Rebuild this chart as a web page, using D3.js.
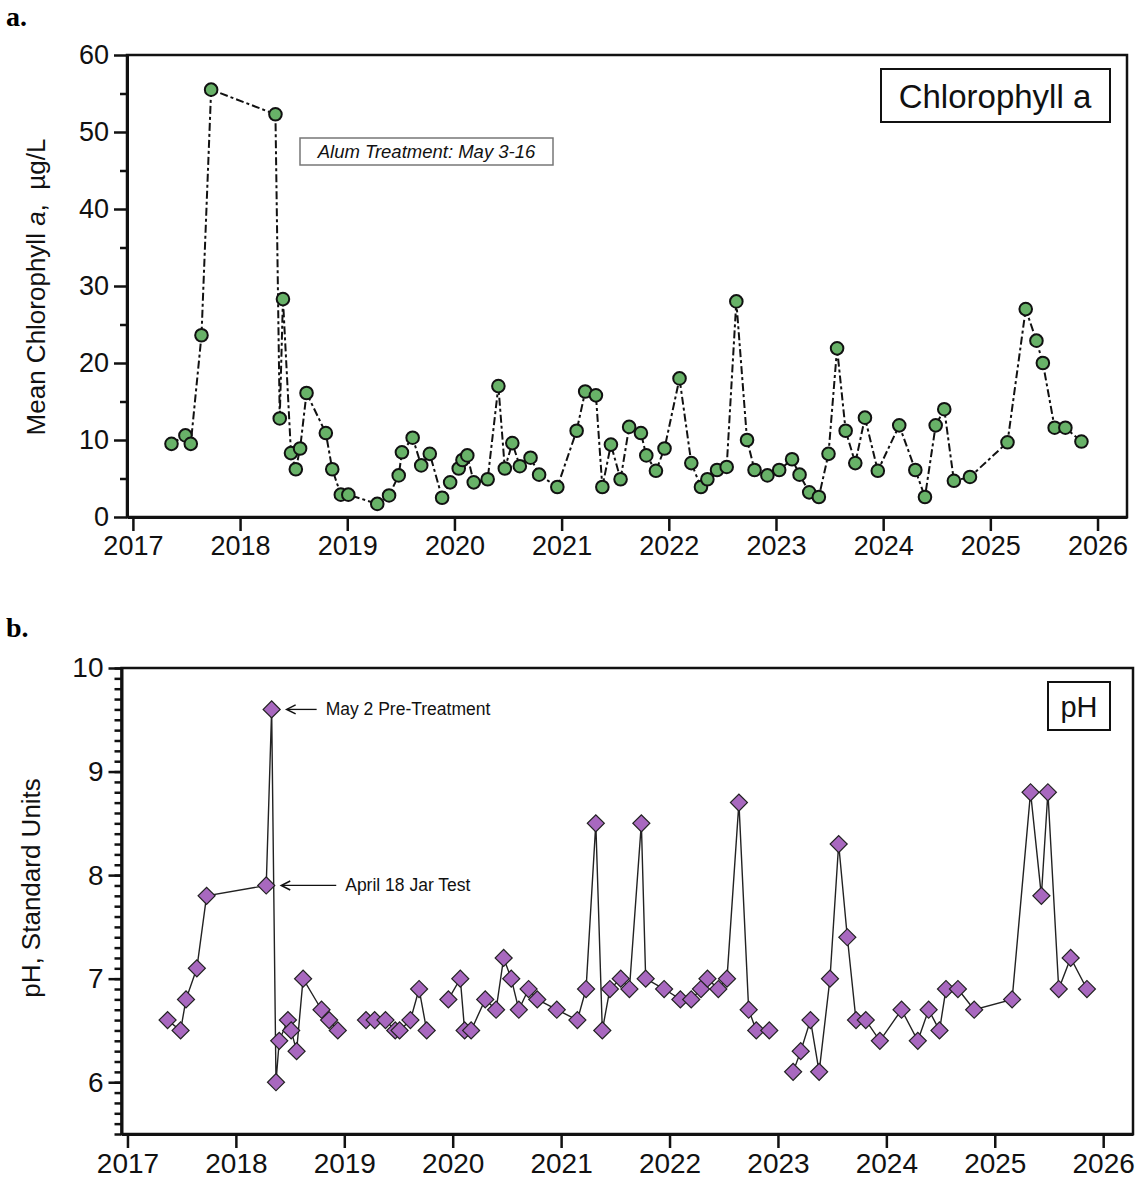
<!DOCTYPE html>
<html>
<head>
<meta charset="utf-8">
<script src="https://cdn.jsdelivr.net/npm/d3@7"></script>
<style>
  body { margin: 0; background: #fff; }
  svg { display: block; font-family: "Liberation Sans", Arial, sans-serif; }
</style>
</head>
<body>
<div id="chart"></div>
<script>
// sample dates (decimal years) and values
var chlDates = [2017.36, 2017.49, 2017.54, 2017.64, 2017.73, 2018.33, 2018.37, 2018.40, 2018.475, 2018.52,
	2018.56, 2018.62, 2018.80, 2018.86, 2018.94, 2019.01, 2019.28, 2019.39, 2019.48, 2019.51,
	2019.61, 2019.69, 2019.77, 2019.885, 2019.96, 2020.04, 2020.075, 2020.12, 2020.18, 2020.31,
	2020.41, 2020.47, 2020.54, 2020.61, 2020.71, 2020.79, 2020.96, 2021.14, 2021.22, 2021.32,
	2021.38, 2021.46, 2021.55, 2021.63, 2021.74, 2021.79, 2021.88, 2021.96, 2022.10, 2022.21,
	2022.30, 2022.36, 2022.45, 2022.54, 2022.63, 2022.73, 2022.80, 2022.92, 2023.03, 2023.15,
	2023.22, 2023.31, 2023.40, 2023.49, 2023.57, 2023.65, 2023.74, 2023.83, 2023.95, 2024.15,
	2024.30, 2024.39, 2024.49, 2024.57, 2024.66, 2024.81, 2025.16, 2025.33, 2025.43, 2025.49,
	2025.60, 2025.70, 2025.85];
var chlValues = [9.5, 10.6, 9.5, 23.6, 55.5, 52.3, 12.8, 28.3, 8.3, 6.2,
	8.9, 16.1, 10.9, 6.2, 2.9, 2.9, 1.7, 2.8, 5.4, 8.4,
	10.3, 6.7, 8.2, 2.5, 4.5, 6.3, 7.4, 8.0, 4.5, 4.9,
	17.0, 6.3, 9.6, 6.6, 7.7, 5.5, 3.9, 11.2, 16.3, 15.8,
	3.9, 9.4, 4.9, 11.7, 10.9, 8.0, 6.0, 8.9, 18.0, 7.0,
	3.9, 4.9, 6.1, 6.5, 28.0, 10.0, 6.1, 5.4, 6.1, 7.5,
	5.5, 3.2, 2.6, 8.2, 21.9, 11.2, 7.0, 12.9, 6.0, 11.9,
	6.1, 2.6, 11.9, 14.0, 4.7, 5.2, 9.7, 27.0, 22.9, 20.0,
	11.6, 11.6, 9.8];

var phDates = [2017.37, 2017.49, 2017.54, 2017.64, 2017.73, 2018.28, 2018.33, 2018.37, 2018.40, 2018.48,
	2018.51, 2018.56, 2018.62, 2018.79, 2018.86, 2018.94, 2019.20, 2019.28, 2019.38, 2019.47,
	2019.51, 2019.61, 2019.69, 2019.76, 2019.96, 2020.07, 2020.11, 2020.17, 2020.30, 2020.40,
	2020.47, 2020.54, 2020.61, 2020.70, 2020.78, 2020.96, 2021.15, 2021.23, 2021.32, 2021.38,
	2021.45, 2021.55, 2021.63, 2021.74, 2021.78, 2021.95, 2022.10, 2022.20, 2022.29, 2022.35,
	2022.45, 2022.53, 2022.64, 2022.73, 2022.80, 2022.92, 2023.14, 2023.21, 2023.30, 2023.38,
	2023.48, 2023.56, 2023.64, 2023.72, 2023.81, 2023.94, 2024.14, 2024.29, 2024.39, 2024.49,
	2024.55, 2024.66, 2024.81, 2025.16, 2025.33, 2025.43, 2025.49, 2025.59, 2025.70, 2025.85];
var phValues = [6.6, 6.5, 6.8, 7.1, 7.8, 7.9, 9.6, 6.0, 6.4, 6.6,
	6.5, 6.3, 7.0, 6.7, 6.6, 6.5, 6.6, 6.6, 6.6, 6.5,
	6.5, 6.6, 6.9, 6.5, 6.8, 7.0, 6.5, 6.5, 6.8, 6.7,
	7.2, 7.0, 6.7, 6.9, 6.8, 6.7, 6.6, 6.9, 8.5, 6.5,
	6.9, 7.0, 6.9, 8.5, 7.0, 6.9, 6.8, 6.8, 6.9, 7.0,
	6.9, 7.0, 8.7, 6.7, 6.5, 6.5, 6.1, 6.3, 6.6, 6.1,
	7.0, 8.3, 7.4, 6.6, 6.6, 6.4, 6.7, 6.4, 6.7, 6.5,
	6.9, 6.9, 6.7, 6.8, 8.8, 7.8, 8.8, 6.9, 7.2, 6.9];
// the pH line is broken over these winters
var phGaps = [2019.05, 2019.85, 2023.05];

var yearTicks = [2017, 2018, 2019, 2020, 2021, 2022, 2023, 2024, 2025, 2026];
var chlTicks = [0, 10, 20, 30, 40, 50, 60];
var chlMinorTicks = [5, 15, 25, 35, 45, 55];
var phTicks = [6, 7, 8, 9, 10];
var phMinorTicks = d3.range(55, 101).map(function (d) { return d / 10; });

var width = 1138;
var height = 1180;
var xDomain = [2016.945, 2026.275];

var svg = d3.select('#chart')
	.append('svg')
	.attr('width', width)
	.attr('height', height);

function toPoints(dates, values) {
	return dates.map(function (d, i) { return { date: d, value: values[i] }; });
}

function drawFrame(p) {
	var x = d3.scaleLinear().domain(xDomain).range([p.left, p.right]);
	var y = d3.scaleLinear().domain(p.yDomain).range([p.bottom, p.top]);

	svg.append('rect')
		.attr('x', p.left).attr('y', p.top)
		.attr('width', p.right - p.left).attr('height', p.bottom - p.top)
		.attr('fill', 'none').attr('stroke', '#111').attr('stroke-width', 2.5);

	// minor ticks first, then the labelled ones
	svg.append('g')
		.attr('transform', 'translate(' + p.left + ',0)')
		.call(d3.axisLeft(y).tickValues(p.minor).tickSize(7).tickSizeOuter(0).tickFormat(''))
		.call(function (g) {
			g.select('.domain').remove();
			g.selectAll('line').attr('stroke', '#111').attr('stroke-width', 2.5);
		});

	svg.append('g')
		.attr('transform', 'translate(' + p.left + ',0)')
		.call(d3.axisLeft(y).tickValues(p.major).tickSize(13).tickSizeOuter(0).tickPadding(p.yPad).tickFormat(d3.format('d')))
		.call(function (g) {
			g.select('.domain').attr('stroke', '#111').attr('stroke-width', 3);
			g.selectAll('line').attr('stroke', '#111').attr('stroke-width', 2.5);
			g.selectAll('text').attr('font-size', p.fontSize).attr('fill', '#111')
				.attr('font-family', '"Liberation Sans", Arial, sans-serif');
		});

	svg.append('g')
		.attr('transform', 'translate(0,' + p.bottom + ')')
		.call(d3.axisBottom(x).tickValues(yearTicks).tickSize(14).tickSizeOuter(0).tickPadding(p.xPad).tickFormat(d3.format('d')))
		.call(function (g) {
			g.select('.domain').attr('stroke', '#111').attr('stroke-width', 3);
			g.selectAll('line').attr('stroke', '#111').attr('stroke-width', 2.5);
			g.selectAll('text').attr('font-size', p.fontSize).attr('fill', '#111')
				.attr('font-family', '"Liberation Sans", Arial, sans-serif');
		});

	svg.append('text')
		.attr('transform', 'translate(' + p.titleX + ',' + p.titleY + ') rotate(-90)')
		.attr('text-anchor', 'middle')
		.attr('font-size', 26)
		.attr('fill', '#111')
		.call(p.title);

	return { x: x, y: y };
}

// panel labels
svg.append('text').attr('x', 6).attr('y', 26).text('a.')
	.attr('font-family', '"Liberation Serif", "Times New Roman", serif')
	.attr('font-weight', 'bold').attr('font-size', 28);
svg.append('text').attr('x', 6).attr('y', 637).text('b.')
	.attr('font-family', '"Liberation Serif", "Times New Roman", serif')
	.attr('font-weight', 'bold').attr('font-size', 28);

// ---- a. Chlorophyll a ----
var top_panel = drawFrame({
	left: 127, right: 1127, top: 55, bottom: 517,
	yDomain: [0, 60], major: chlTicks, minor: chlMinorTicks,
	fontSize: 27, xPad: 5, yPad: 5,
	titleX: 45, titleY: 287,
	title: function (t) {
		t.append('tspan').text('Mean Chlorophyll ');
		t.append('tspan').attr('font-style', 'italic').text('a');
		t.append('tspan').text(',\u00a0\u00a0\u00b5g/L');
	}
});

var chlData = toPoints(chlDates, chlValues);

svg.append('path')
	.datum(chlData)
	.attr('d', d3.line()
		.x(function (d) { return top_panel.x(d.date); })
		.y(function (d) { return top_panel.y(d.value); }))
	.attr('fill', 'none')
	.attr('stroke', '#111')
	.attr('stroke-width', 2)
	.attr('stroke-dasharray', '8,3,3,3');

svg.append('g')
	.selectAll('circle')
	.data(chlData)
	.enter()
	.append('circle')
	.attr('cx', function (d) { return top_panel.x(d.date); })
	.attr('cy', function (d) { return top_panel.y(d.value); })
	.attr('r', 6.3)
	.attr('fill', '#68b268')  // green
	.attr('stroke', '#111')
	.attr('stroke-width', 2);

// legend box
svg.append('rect').attr('x', 881).attr('y', 69).attr('width', 229).attr('height', 53)
	.attr('fill', '#fff').attr('stroke', '#111').attr('stroke-width', 2);
svg.append('text').attr('x', 995).attr('y', 108).attr('text-anchor', 'middle')
	.attr('font-size', 33).attr('fill', '#111').text('Chlorophyll a');

// treatment note
svg.append('rect').attr('x', 300).attr('y', 138).attr('width', 253).attr('height', 27)
	.attr('fill', '#fff').attr('stroke', '#777').attr('stroke-width', 1.5);
svg.append('text').attr('x', 426.5).attr('y', 158).attr('text-anchor', 'middle')
	.attr('font-size', 18.5).attr('font-style', 'italic').attr('fill', '#111')
	.text('Alum Treatment: May 3-16');

// ---- b. pH ----
var bottom_panel = drawFrame({
	left: 121.5, right: 1133, top: 668, bottom: 1134,
	yDomain: [5.5, 10], major: phTicks, minor: phMinorTicks,
	fontSize: 28, xPad: 5, yPad: 5,
	titleX: 40, titleY: 888,
	title: function (t) { t.text('pH, Standard Units'); }
});

var phData = toPoints(phDates, phValues);

// split the series where the sampling gaps are
var phSegments = [];
var current = [];
phData.forEach(function (d, i) {
	if (i > 0) {
		var prev = phData[i - 1].date;
		var broken = phGaps.some(function (g) { return g > prev && g < d.date; });
		if (broken) { phSegments.push(current); current = []; }
	}
	current.push(d);
});
phSegments.push(current);

svg.append('g')
	.selectAll('path')
	.data(phSegments)
	.enter()
	.append('path')
	.attr('d', d3.line()
		.x(function (d) { return bottom_panel.x(d.date); })
		.y(function (d) { return bottom_panel.y(d.value); }))
	.attr('fill', 'none')
	.attr('stroke', '#222')
	.attr('stroke-width', 1.4);

svg.append('g')
	.selectAll('path')
	.data(phData)
	.enter()
	.append('path')
	.attr('d', d3.symbol().type(d3.symbolSquare).size(145))
	.attr('transform', function (d) {
		return 'translate(' + bottom_panel.x(d.date) + ',' + bottom_panel.y(d.value) + ') rotate(45)';
	})
	.attr('fill', '#a868bf')  // purple
	.attr('stroke', '#222')
	.attr('stroke-width', 1.2);

svg.append('rect').attr('x', 1048).attr('y', 682).attr('width', 62).attr('height', 48)
	.attr('fill', '#fff').attr('stroke', '#111').attr('stroke-width', 2);
svg.append('text').attr('x', 1079).attr('y', 717).attr('text-anchor', 'middle')
	.attr('font-size', 29).attr('fill', '#111').text('pH');

// arrows for the two 2018 samples
var notes = [
	{ date: 2018.33, value: 9.6, text: 'May 2 Pre-Treatment', len: 30 },
	{ date: 2018.28, value: 7.9, text: 'April 18 Jar Test', len: 55 }
];
notes.forEach(function (n) {
	var px = bottom_panel.x(n.date) + 15;
	var py = bottom_panel.y(n.value);
	svg.append('line')
		.attr('x1', px + 1).attr('y1', py).attr('x2', px + n.len).attr('y2', py)
		.attr('stroke', '#111').attr('stroke-width', 1.3);
	svg.append('path')
		.attr('d', 'M' + (px + 9) + ',' + (py - 4.5) + 'L' + px + ',' + py + 'L' + (px + 9) + ',' + (py + 4.5))
		.attr('fill', 'none').attr('stroke', '#111').attr('stroke-width', 1.5);
	svg.append('text')
		.attr('x', px + n.len + 9).attr('y', py + 6)
		.attr('font-size', 17.5).attr('fill', '#111')
		.text(n.text);
});
</script>
</body>
</html>
